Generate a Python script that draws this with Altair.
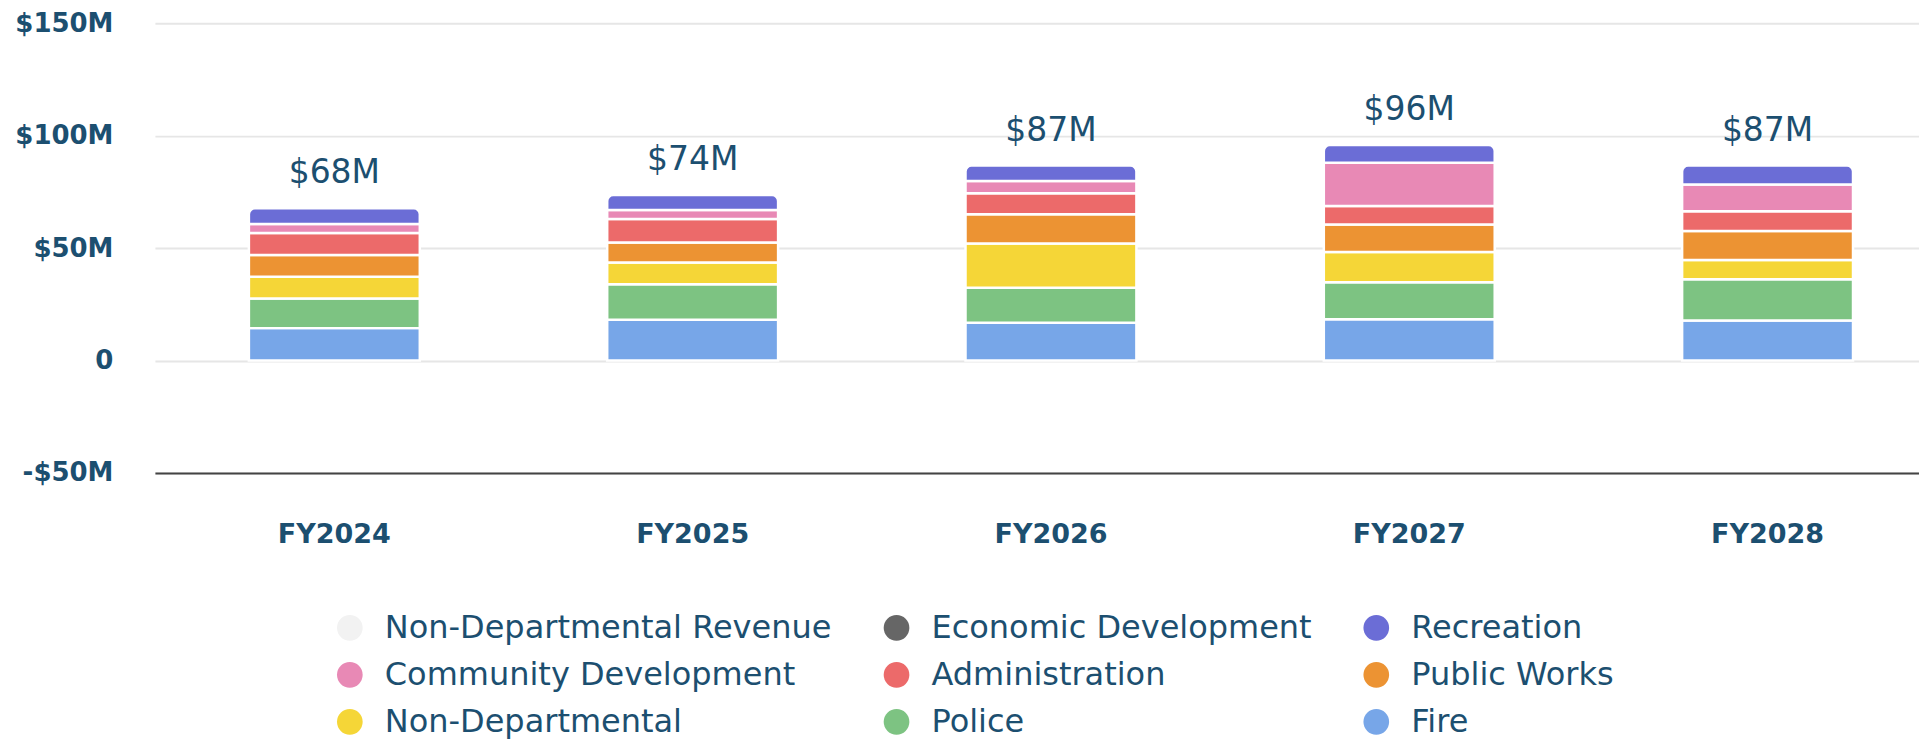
import altair as alt
import pandas as pd

# ---- data (values in $ millions) ----
years = ["FY2024", "FY2025", "FY2026", "FY2027", "FY2028"]

fire = [14.4, 18.1, 16.8, 18.3, 17.8]
police = [13.2, 15.8, 15.6, 16.5, 18.3]
non_departmental = [9.7, 9.7, 19.6, 13.4, 8.6]
public_works = [9.6, 8.9, 13.0, 12.3, 12.9]
administration = [9.8, 10.4, 9.4, 8.2, 8.8]
community_development = [4.0, 4.0, 5.4, 19.2, 11.9]
recreation = [7.0, 6.7, 6.9, 7.9, 8.4]

stack_departments = ["Fire", "Police", "Non-Departmental", "Public Works",
                     "Administration", "Community Development", "Recreation"]
stack_values = [fire, police, non_departmental, public_works,
                administration, community_development, recreation]

legend_order = ["Non-Departmental Revenue", "Economic Development", "Recreation",
                "Community Development", "Administration", "Public Works",
                "Non-Departmental", "Police", "Fire"]
legend_colors = ["#f2f2f2", "#666666", "#6b6dd6",
                 "#e889b5", "#ec6a6a", "#ec9333",
                 "#f5d637", "#7dc382", "#77a6e8"]

y_ticks = [-50, 0, 50, 100, 150]

rows = []
for idx, (dept, vals) in enumerate(zip(stack_departments, stack_values)):
    for yr, v in zip(years, vals):
        rows.append({"year": yr, "dept": dept, "value": v, "stack": idx})
df = pd.DataFrame(rows)

TEXT = "#1c4f70"
FONT = "DejaVu Sans"

x_enc = alt.X(
    "year:N", sort=years, title=None,
    scale=alt.Scale(paddingInner=0.523, paddingOuter=0.2232, align=0.5875),
    axis=alt.Axis(labelAngle=0, labelFont=FONT, labelFontWeight="bold",
                  labelFontSize=27, labelColor=TEXT, labelPadding=62,
                  labelBaseline="middle", ticks=False, domain=True,
                  domainColor="#444444", domainWidth=2, grid=False),
)

y_enc = alt.Y(
    "y1:Q", title=None,
    scale=alt.Scale(domain=[-50, 150], nice=False),
    axis=alt.Axis(values=y_ticks,
                  labelExpr="datum.value == 0 ? '0' : (datum.value < 0 ? '-$' + abs(datum.value) + 'M' : '$' + datum.value + 'M')",
                  labelFont=FONT, labelFontWeight="bold", labelFontSize=26,
                  labelColor=TEXT, labelPadding=42, ticks=False, domain=False,
                  grid=True, gridColor="#e6e6e6", gridWidth=2,
                  minExtent=140, maxExtent=140),
)

color_enc = alt.Color(
    "dept:N",
    scale=alt.Scale(domain=legend_order, range=legend_colors),
    legend=alt.Legend(
        title=None, orient="none", legendX=179, legendY=589,
        direction="horizontal", columns=3, symbolType="circle",
        symbolSize=660, symbolStrokeWidth=0, symbolOpacity=1,
        labelFont=FONT, labelFontSize=32, labelColor=TEXT,
        labelOffset=19, columnPadding=48, rowPadding=15, labelLimit=1000,
    ),
)

base = alt.Chart(df).transform_stack(
    stack="value", as_=["y0", "y1"], groupby=["year"],
    sort=[alt.SortField("stack", order="ascending")],
)

lower = base.transform_filter("datum.dept !== 'Recreation'").mark_bar(
    stroke="white", strokeWidth=2.5,
).encode(x=x_enc, y=y_enc, y2="y0:Q", color=color_enc)

top = base.transform_filter("datum.dept === 'Recreation'").mark_bar(
    stroke="white", strokeWidth=2.5,
    cornerRadiusTopLeft=6, cornerRadiusTopRight=6,
).encode(x=x_enc, y=y_enc, y2="y0:Q", color=color_enc)

labels = alt.Chart(df).transform_aggregate(
    total="sum(value)", groupby=["year"]
).transform_calculate(
    label="'$' + format(round(datum.total), 'd') + 'M'"
).mark_text(
    font=FONT, fontSize=33, color=TEXT, baseline="middle", dy=-35
).encode(
    x=alt.X("year:N", sort=years),
    y=alt.Y("total:Q"),
    text="label:N",
)

chart = alt.layer(lower, top, labels).properties(
    width=1765, height=450,
    padding={"left": 6, "top": 2, "right": 0, "bottom": 6},
).configure_view(strokeWidth=0)

chart.save("out.html", embed_options={"renderer": "svg", "actions": False})
